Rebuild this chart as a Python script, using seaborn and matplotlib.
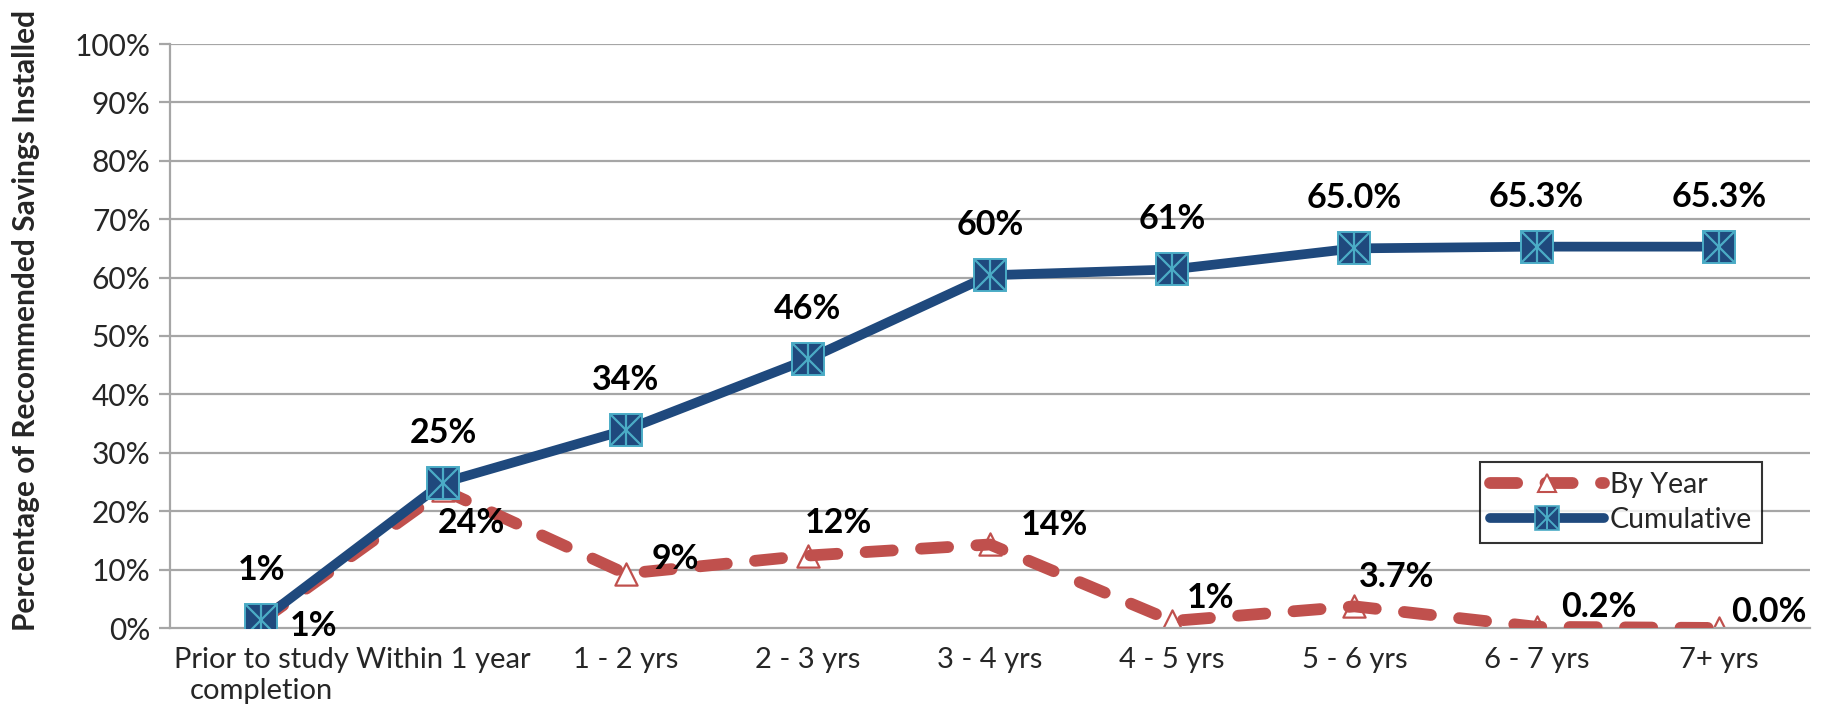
import numpy as np
import pandas as pd
import matplotlib
matplotlib.use("Agg")
import matplotlib.pyplot as plt
import seaborn as sns
from matplotlib.lines import Line2D
from matplotlib.ticker import FixedLocator, FuncFormatter

# ---- data ----
categories = ["Prior to study\ncompletion", "Within 1 year", "1 - 2 yrs", "2 - 3 yrs",
              "3 - 4 yrs", "4 - 5 yrs", "5 - 6 yrs", "6 - 7 yrs", "7+ yrs"]
by_year = [1.2, 23.6, 9.3, 12.4, 14.3, 1.2, 3.7, 0.2, 0.0]
cumulative = [1.3, 24.9, 33.9, 46.0, 60.4, 61.4, 65.0, 65.3, 65.3]
by_year_labels = ["1%", "24%", "9%", "12%", "14%", "1%", "3.7%", "0.2%", "0.0%"]
cumulative_labels = ["1%", "25%", "34%", "46%", "60%", "61%", "65.0%", "65.3%", "65.3%"]
y_ticks = [0, 10, 20, 30, 40, 50, 60, 70, 80, 90, 100]

# label offsets (pixels) for the By Year series
by_year_offsets = [(52, -5), (28, -33), (50, 15), (31, 33), (64, 19),
                   (38, 23), (42, 29), (62, 20), (50, 16)]

RED = "#c0504d"
BLUE = "#1f497d"
LIGHT = "#4bacc6"
GRID = "#a6a6a6"

sns.set_style("white")
plt.rcParams["font.family"] = ["Lato", "DejaVu Sans"]

fig = plt.figure(figsize=(18.24, 7.21), dpi=100)
ax = fig.add_axes([170/1824, 1-628/721, (1810-170)/1824, (628-44)/721])

x = np.arange(len(categories))
df = pd.DataFrame({"x": x, "by_year": by_year, "cumulative": cumulative})

# gridlines
for t in y_ticks[1:]:
    ax.axhline(t, color=GRID, lw=1.6, zorder=0)

# By Year dashed line
sns.lineplot(data=df, x="x", y="by_year", ax=ax, color=RED, linewidth=8.5,
             linestyle=(0, (2.3, 2.4)), dash_capstyle="round", zorder=3, legend=False)
sns.scatterplot(data=df, x="x", y="by_year", ax=ax, marker="^", s=16**2,
                facecolor="white", edgecolor=RED, linewidth=1.6, zorder=2.5, legend=False)

# Cumulative line
sns.lineplot(data=df, x="x", y="cumulative", ax=ax, color=BLUE, linewidth=7,
             solid_capstyle="round", zorder=4, legend=False)
ax.plot(df["x"], df["cumulative"], linestyle="none", marker="s", markersize=23,
        markerfacecolor=BLUE, markeredgecolor=LIGHT, markeredgewidth=1.4, zorder=5)
ax.plot(df["x"], df["cumulative"], linestyle="none", marker="x", markersize=22,
        markeredgecolor=LIGHT, markeredgewidth=1.6, zorder=6)
ax.plot(df["x"], df["cumulative"], linestyle="none", marker="|", markersize=22,
        markeredgecolor=LIGHT, markeredgewidth=1.6, zorder=6)

# data labels
for xi, yi, lab in zip(x, cumulative, cumulative_labels):
    ax.annotate(lab, (xi, yi), xytext=(0, 50), textcoords="offset pixels",
                ha="center", va="center", fontsize=24.5, fontweight="bold", color="black", zorder=7)
for xi, yi, lab, off in zip(x, by_year, by_year_labels, by_year_offsets):
    ax.annotate(lab, (xi, yi), xytext=off, textcoords="offset pixels",
                ha="center", va="center", fontsize=24.5, fontweight="bold", color="black", zorder=7)

# axes
ax.set_xlim(-0.5, len(categories) - 0.5)
ax.set_ylim(0, 100)
ax.set_yticks(y_ticks)
ax.yaxis.set_major_formatter(FuncFormatter(lambda v, p: f"{int(v)}%"))
ax.set_xticks(x)
ax.set_xticklabels(categories)
ax.xaxis.set_minor_locator(FixedLocator(np.arange(-0.5, len(categories), 1.0)))
ax.tick_params(axis="x", which="major", length=0, pad=14, labelsize=21)
ax.tick_params(axis="x", which="minor", length=10, width=1.6, color=GRID, direction="out")
ax.tick_params(axis="y", which="major", length=8, width=1.6, color=GRID, direction="out",
               pad=6, labelsize=21.5, left=True)
ax.set_xlabel("")
ax.set_ylabel("Percentage of Recommended Savings Installed", fontsize=21.5,
              fontweight="bold")
ax.yaxis.set_label_coords(-0.079, 0.527)
for s in ["top", "right"]:
    ax.spines[s].set_visible(False)
for s in ["left", "bottom"]:
    ax.spines[s].set_color(GRID)
    ax.spines[s].set_linewidth(1.6)

# legend
h_year = (
    Line2D([0], [0], color=RED, lw=8.5, linestyle=(0, (2.3, 2.4)), dash_capstyle="round"),
    Line2D([0], [0], linestyle="none", marker="^", markersize=13,
           markerfacecolor="white", markeredgecolor=RED, markeredgewidth=1.5),
)
h_cum = (
    Line2D([0], [0], color=BLUE, lw=7, solid_capstyle="round"),
    Line2D([0], [0], linestyle="none", marker="s", markersize=17,
           markerfacecolor=BLUE, markeredgecolor=LIGHT, markeredgewidth=1.2),
    Line2D([0], [0], linestyle="none", marker="x", markersize=16,
           markeredgecolor=LIGHT, markeredgewidth=1.4),
    Line2D([0], [0], linestyle="none", marker="|", markersize=16,
           markeredgecolor=LIGHT, markeredgewidth=1.4),
)
leg = ax.legend([h_year, h_cum], ["By Year", "Cumulative"], loc="upper left",
                bbox_to_anchor=(0.799, 0.284), fontsize=20.5, frameon=True, fancybox=False,
                handlelength=4.0, borderpad=0.35, labelspacing=0.3, handletextpad=0.2,
                borderaxespad=0)
leg.get_frame().set_edgecolor("black")
leg.get_frame().set_linewidth(1.5)
leg.set_zorder(10)

fig.savefig("out.png", dpi=100)
